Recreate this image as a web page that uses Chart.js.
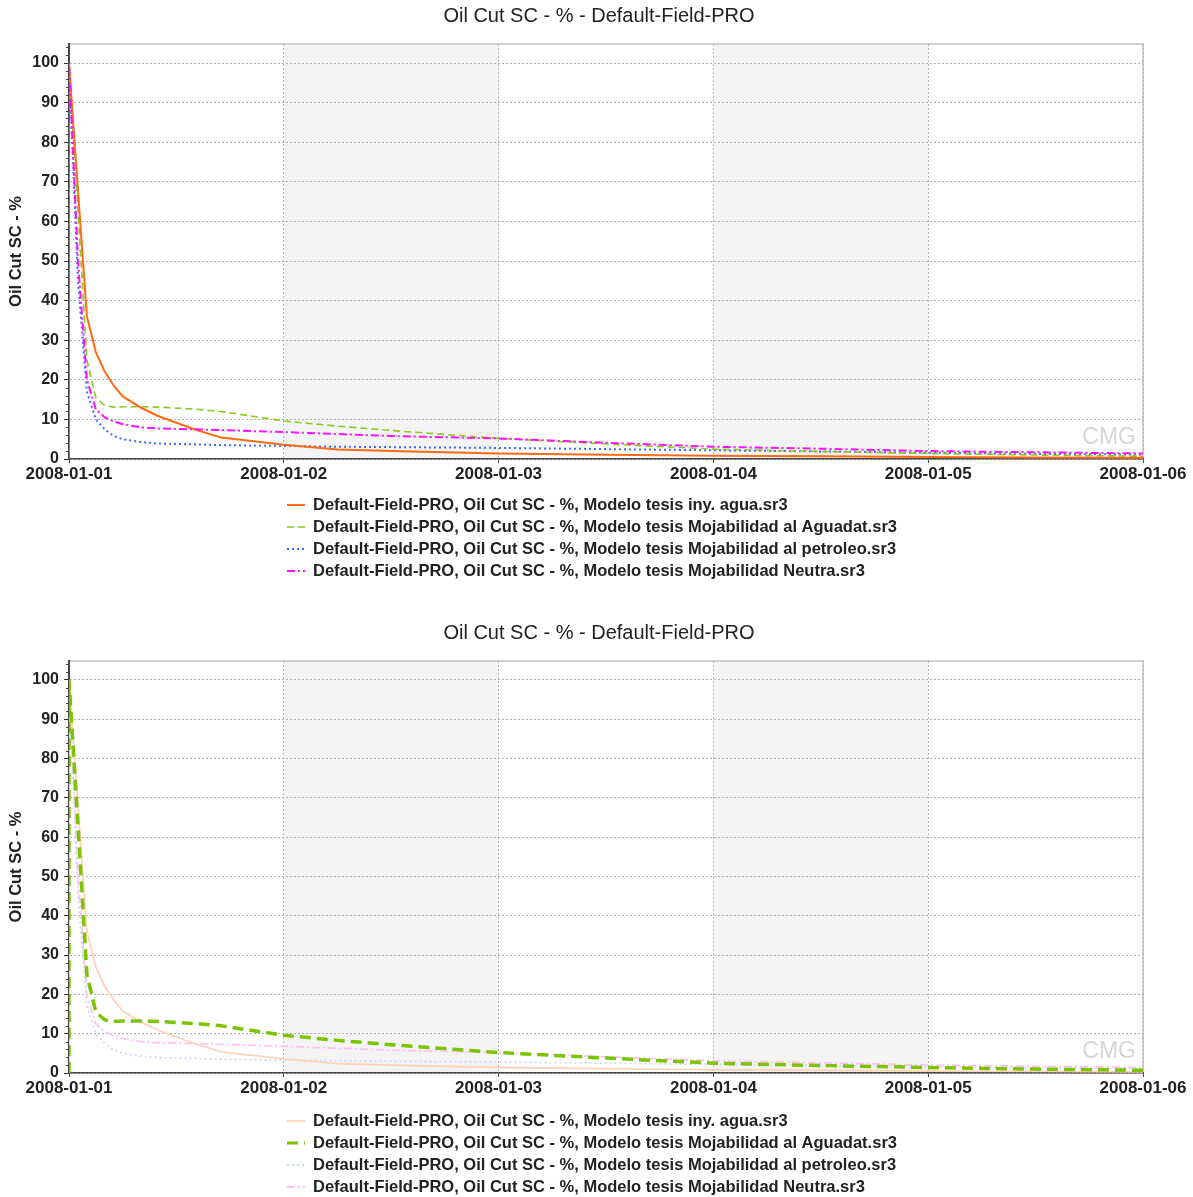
<!DOCTYPE html>
<html>
<head>
<meta charset="utf-8">
<script src="https://cdn.jsdelivr.net/npm/chart.js@4.4.1/dist/chart.umd.min.js"></script>
<style>
  body { margin: 0; background: #fff; }
  .box { position: relative; width: 1193px; }
  #topBox { height: 617px; }
  #bottomBox { height: 580px; }
</style>
</head>
<body>
<div class="box" id="topBox"><canvas id="chartTop"></canvas></div>
<div class="box" id="bottomBox"><canvas id="chartBottom"></canvas></div>
<script>
// ===============================
//  DATA
// ===============================
const HOURS    = [0, 0,   1,  2,  3,    4,    5,    6,    8,    10,   14,   17,   24,  30,  36,  48,  60,  72,  84,  96,  108, 120];
const AGUA     = [0, 100, 68, 36, 27,   22,   18.5, 15.8, 13,   10.8, 7.5,  5.4,  3.6, 2.4, 2.0, 1.4, 1.1, 0.8, 0.7, 0.5, 0.4, 0.3];
const AGUADAT  = [0, 100, 63, 25, 15.5, 13.5, 13.1, 13.2, 13.2, 13.1, 12.6, 12.0, 9.6, 8.3, 7.2, 5.2, 3.8, 2.5, 1.9, 1.4, 1.0, 0.7];
const PETROLEO = [0, 100, 45, 17, 10,   7.5,  5.8,  5.0,  4.3,  3.9,  3.7,  3.5,  3.3, 3.1, 3.0, 2.8, 2.5, 2.2, 1.9, 1.6, 1.3, 1.1];
const NEUTRA   = [0, 100, 50, 20, 12.5, 10.5, 9.5,  8.8,  8.0,  7.7,  7.5,  7.3,  6.8, 6.3, 5.8, 5.2, 4.1, 3.1, 2.6, 2.0, 1.7, 1.4];

const DAY_LABELS = ["2008-01-01", "2008-01-02", "2008-01-03", "2008-01-04", "2008-01-05", "2008-01-06"];
const SHADED_DAYS = [[1, 2], [3, 4]];
const Y_TICKS = [0, 10, 20, 30, 40, 50, 60, 70, 80, 90, 100];

const TITLE = "Oil Cut SC - % - Default-Field-PRO";
const Y_TITLE = "Oil Cut SC - %";
const SERIES_LABELS = [
    "Default-Field-PRO, Oil Cut SC - %, Modelo tesis iny. agua.sr3",
    "Default-Field-PRO, Oil Cut SC - %, Modelo tesis Mojabilidad al Aguadat.sr3",
    "Default-Field-PRO, Oil Cut SC - %, Modelo tesis Mojabilidad al petroleo.sr3",
    "Default-Field-PRO, Oil Cut SC - %, Modelo tesis Mojabilidad Neutra.sr3"
];
const SERIES = [AGUA, AGUADAT, PETROLEO, NEUTRA];

// ===============================
//  LINE STYLES
// ===============================
const TOP_STYLES = [
    { color: "#FF6A13", width: 2,   dash: [],           order: 1 },
    { color: "#8DC81E", width: 1.6, dash: [7, 4],       order: 2 },
    { color: "#3D6BFF", width: 2,   dash: [2, 3],       order: 3 },
    { color: "#FF10FF", width: 2,   dash: [8, 3, 2, 3], order: 0 }
];
const BOTTOM_STYLES = [
    { color: "#FFD3B8", width: 1.8, dash: [],           order: 1 },
    { color: "#7CC400", width: 3.5, dash: [11, 6],      order: 0 },
    { color: "#CCD8FF", width: 1.8, dash: [2, 3],       order: 2 },
    { color: "#FFC2F2", width: 1.8, dash: [8, 3, 2, 3], order: 3 }
];

const FONT = '"Liberation Sans", Arial, sans-serif';
Chart.defaults.font.family = FONT;
Chart.defaults.color = "#222";

// ===============================
//  PLOT DECORATION (title, bands, frame, watermark, minor ticks, legend list)
// ===============================
const plotDecor = {
    id: "plotDecor",
    beforeDraw(chart) {
        const { ctx, chartArea: a, scales: { x } } = chart;
        ctx.save();
        ctx.font = "20px " + FONT;
        ctx.fillStyle = "#222";
        ctx.textAlign = "center";
        ctx.textBaseline = "middle";
        ctx.fillText(TITLE, 599, 16);

        ctx.fillStyle = "#f4f4f4";
        SHADED_DAYS.forEach(([d0, d1]) => {
            const x0 = x.getPixelForValue(d0);
            const x1 = x.getPixelForValue(d1);
            ctx.fillRect(x0, a.top, x1 - x0, a.bottom - a.top);
        });
        ctx.strokeStyle = "#d0d0d0";
        ctx.lineWidth = 2;
        ctx.beginPath();
        ctx.moveTo(a.left, a.top);
        ctx.lineTo(a.right, a.top);
        ctx.lineTo(a.right, a.bottom);
        ctx.stroke();
        ctx.restore();
    },
    beforeDatasetsDraw(chart) {
        const { ctx, chartArea: a } = chart;
        ctx.save();
        ctx.font = "23px " + FONT;
        ctx.fillStyle = "#d6d6d6";
        ctx.textAlign = "right";
        ctx.textBaseline = "middle";
        ctx.fillText("CMG", a.right - 7, a.bottom - 21);
        ctx.restore();
    },
    afterDraw(chart, args, opts) {
        const { ctx, chartArea: a, scales: { y } } = chart;
        ctx.save();

        // small ticks between the labelled ones on the value axis
        ctx.strokeStyle = "#444";
        ctx.lineWidth = 1;
        ctx.beginPath();
        for (let v = 2; v < y.max; v += 2) {
            if (v % 10 === 0) continue;
            const py = Math.round(y.getPixelForValue(v)) + 0.5;
            ctx.moveTo(a.left - 3, py);
            ctx.lineTo(a.left, py);
        }
        ctx.stroke();

        ctx.font = "bold 16.5px " + FONT;
        ctx.textBaseline = "middle";
        chart.data.datasets.forEach((ds, i) => {
            const ly = a.bottom + opts.legendGap + i * 22;
            ctx.strokeStyle = ds.borderColor;
            ctx.lineWidth = Math.min(ds.borderWidth, 3);
            ctx.setLineDash(ds.borderDash || []);
            ctx.beginPath();
            ctx.moveTo(287, ly);
            ctx.lineTo(305, ly);
            ctx.stroke();
            ctx.setLineDash([]);
            ctx.fillStyle = "#222";
            ctx.fillText(ds.label, 313, ly);
        });
        ctx.restore();
    }
};

// ===============================
//  BUILD CHART
// ===============================
function buildChart(canvasId, styles, bottomPad, legendGap) {
    const datasets = SERIES.map((vals, i) => ({
        label: SERIES_LABELS[i],
        data: vals.map((v, j) => ({ x: HOURS[j] / 24, y: v })),
        borderColor: styles[i].color,
        borderWidth: styles[i].width,
        borderDash: styles[i].dash,
        order: styles[i].order,
        pointRadius: 0,
        tension: 0,
        fill: false
    }));

    return new Chart(document.getElementById(canvasId), {
        type: "line",
        data: { datasets },
        plugins: [plotDecor],
        options: {
            responsive: true,
            maintainAspectRatio: false,
            animation: false,
            layout: { padding: { left: 0, right: 50, top: 44, bottom: bottomPad } },
            plugins: {
                legend: { display: false },
                tooltip: { enabled: false },
                title: { display: false },
                plotDecor: { legendGap }
            },
            scales: {
                x: {
                    type: "linear",
                    min: 0,
                    max: DAY_LABELS.length - 1,
                    afterFit: s => { s.height = 30; },
                    ticks: {
                        stepSize: 1,
                        autoSkip: false,
                        maxRotation: 0,
                        padding: 1,
                        color: "#222",
                        font: { size: 17, weight: "bold" },
                        callback: v => DAY_LABELS[v]
                    },
                    grid: { color: "#b8b8b8", tickLength: 4, tickColor: "#444" },
                    border: { color: "#444", width: 1.5, dash: [2, 2] }
                },
                y: {
                    min: 0,
                    max: 104.8,
                    afterFit: s => { s.width = 69; },
                    afterBuildTicks: s => { s.ticks = Y_TICKS.map(v => ({ value: v })); },
                    ticks: {
                        padding: 5,
                        color: "#222",
                        font: { size: 16, weight: "bold" }
                    },
                    grid: { color: "#b0b0b0", tickLength: 5, tickColor: "#333" },
                    border: { color: "#444", width: 2, dash: [2, 2] },
                    title: {
                        display: true,
                        text: Y_TITLE,
                        color: "#222",
                        font: { size: 16.5, weight: "bold" },
                        padding: { top: 7, bottom: 0 }
                    }
                }
            }
        }
    });
}

buildChart("chartTop", TOP_STYLES, 128, 46);
buildChart("chartBottom", BOTTOM_STYLES, 94, 48);
</script>
</body>
</html>
